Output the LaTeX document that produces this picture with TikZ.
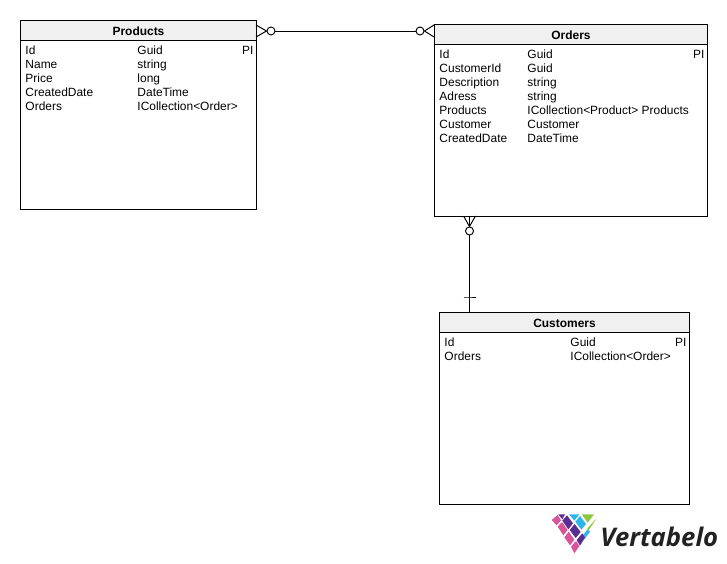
\documentclass[tikz,border=0pt]{standalone}
\usepackage{fontspec}
\setmainfont{Liberation Sans}
\newfontfamily\logofont{Open Sans}
\usetikzlibrary{positioning}
\definecolor{headfill}{HTML}{F0F0F0}
\definecolor{logopink}{HTML}{D9559B}
\definecolor{logopurple}{HTML}{5C2D91}
\definecolor{logoblue}{HTML}{2DB4E8}
\definecolor{logogreen}{HTML}{8DC63F}
\definecolor{logotext}{HTML}{222222}
\tikzset{
  every picture/.style={line width=0.55pt},
  table/.style={draw, anchor=north west, inner sep=0pt},
  head/.style={draw, fill=headfill, anchor=north west, inner sep=0pt, minimum height=20*0.02cm, text height=6.2pt, font=\fontsize{6.8pt}{8pt}\selectfont\bfseries},
  cell/.style={anchor=base west, inner sep=0pt, font=\fontsize{6.8pt}{8pt}\selectfont},
  ring/.style={draw, circle, fill=white, inner sep=0pt, minimum size=8*0.02cm}
}
\begin{document}
\begin{tikzpicture}[x=0.02cm,y=-0.02cm]
  \useasboundingbox (0,0) rectangle (727,564);

  % tables
  \node[table, minimum width=236*0.02cm, minimum height=189*0.02cm] (Products) at (20,20) {};
  \node[head, minimum width=236*0.02cm] (ProductsHead) at (20,20) {Products};
  \node[table, minimum width=273*0.02cm, minimum height=192*0.02cm] (Orders) at (434,24) {};
  \node[head, minimum width=273*0.02cm] (OrdersHead) at (434,24) {Orders};
  \node[table, minimum width=250*0.02cm, minimum height=192*0.02cm] (Customers) at (439,312) {};
  \node[head, minimum width=250*0.02cm] (CustomersHead) at (439,312) {Customers};

  % columns
  \foreach \y/\name/\type in {55/Id/Guid, 69/Name/string, 83/Price/long, 97/CreatedDate/DateTime, 111/Orders/ICollection<Order>}
  {
    \node[cell] at (25,\y) {\name};
    \node[cell] at (137,\y) {\type};
  }
  \node[cell, anchor=base east] at (254,55) {PI};

  \foreach \y/\name/\type in {59/Id/Guid, 73/CustomerId/Guid, 87/Description/string, 101/Adress/string, 115/Products/ICollection<Product> Products, 129/Customer/Customer, 143/CreatedDate/DateTime}
  {
    \node[cell] at (439,\y) {\name};
    \node[cell] at (527,\y) {\type};
  }
  \node[cell, anchor=base east] at (705,59) {PI};

  \foreach \y/\name/\type in {346/Id/Guid, 360/Orders/ICollection<Order>}
  {
    \node[cell] at (444,\y) {\name};
    \node[cell] at (570,\y) {\type};
  }
  \node[cell, anchor=base east] at (687,346) {PI};

  % references
  \node[ring] (ringProducts) at (271,31) {};
  \node[ring] (ringOrders) at (420,31) {};
  \node[ring] (ringCustomers) at (469.5,231) {};
  \coordinate (barCustomers) at (469.5,297);

  \draw (ringProducts) -- (ringOrders);
  \draw (ringProducts.west) -- (256,25);
  \draw (ringProducts.west) -- (256,37);
  \draw (ringOrders.east) -- (434,25);
  \draw (ringOrders.east) -- (434,37);

  \draw (ringCustomers) -- (CustomersHead.north -| ringCustomers);
  \draw (ringCustomers.north) -- (463.5,216);
  \draw (ringCustomers.north) -- (469.5,216);
  \draw (ringCustomers.north) -- (475.5,216);
  \draw (463.5,297) -- (barCustomers) -- (475.5,297);

  % logo
  \begin{scope}[shift={(540,505)},x=0.02cm/3,y=-0.02cm/3]
    \fill[logopink] (35,45) -- (53,30) -- (63,46) -- (50,61) -- cycle;
    \fill[logopurple] (55,28) -- (75,28) -- (67,43) -- cycle;
    \fill[logopurple] (81,31) -- (99,55) -- (85,73) -- (67,47) -- cycle;
    \fill[logoblue] (87,28) -- (118,28) -- (103,47) -- cycle;
    \fill[logoblue] (120,33) -- (138,57) -- (124,74) -- (106,50) -- cycle;
    \fill[logogreen] (125,28) -- (162,28) -- (143,53) -- cycle;
    \fill[logogreen] (170,40) -- (145,77) -- (142,70) -- cycle;
    \fill[logoblue] (143,73) -- (150,80) -- (133,103) -- (127,93) -- cycle;
    \fill[logopink] (66,51) -- (83,75) -- (70,91) -- (53,65) -- cycle;
    \fill[logopurple] (104,57) -- (122,81) -- (107,99) -- (89,75) -- cycle;
    \fill[logopink] (86,80) -- (103,104) -- (90,121) -- (73,97) -- cycle;
    \fill[logopurple] (127,85) -- (135,98) -- (120,122) -- (110,105) -- cycle;
    \fill[logopink] (108,108) -- (118,123) -- (103,145) -- (93,125) -- cycle;
  \end{scope}
  \node[anchor=base west, inner sep=0pt, text=logotext, font=\logofont\fontsize{14.6pt}{16pt}\selectfont\bfseries\itshape] (logo) at (600,546) {Vertabelo};
\end{tikzpicture}
\end{document}
